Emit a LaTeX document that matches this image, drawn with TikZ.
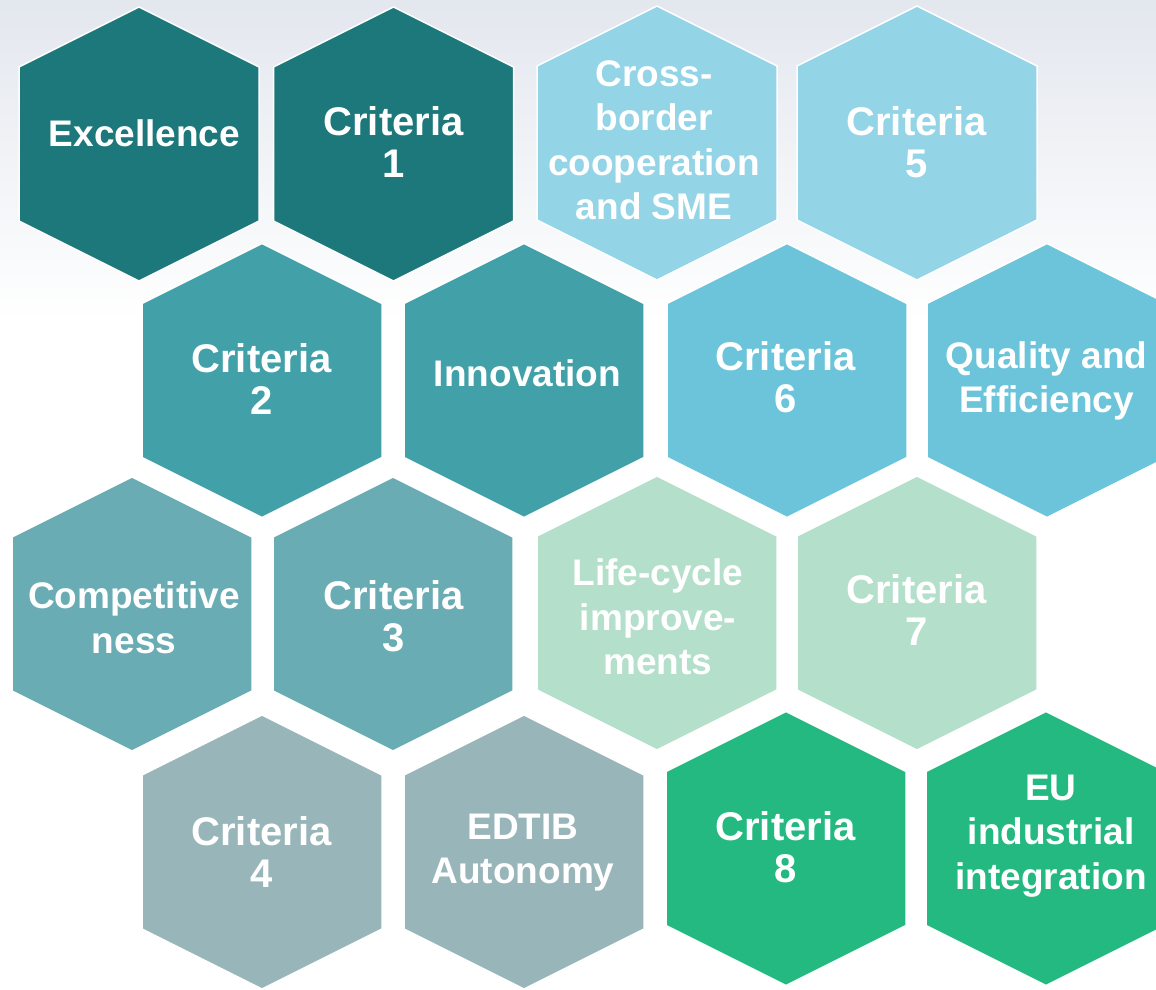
\documentclass[tikz,border=0pt]{standalone}
\usepackage{fontspec}
\setmainfont{Liberation Sans}
\definecolor{bgtop}{HTML}{E3E7EE}
\definecolor{cDark}{HTML}{1C787A}
\definecolor{cLBlue}{HTML}{93D4E6}
\definecolor{cTeal}{HTML}{41A0A8}
\definecolor{cBlue}{HTML}{6BC4DA}
\definecolor{cGTeal}{HTML}{69ACB3}
\definecolor{cMint}{HTML}{B3DFCB}
\definecolor{cGray}{HTML}{98B5B9}
\definecolor{cGreen}{HTML}{25B982}
\tikzset{
  hexcell/.style={fill=#1, draw=white, line width=1.5pt, line join=miter},
  lbl/.style={text=white, font=\bfseries\fontsize{37}{44.5}\selectfont, align=center, inner sep=0pt},
  crit/.style={text=white, font=\bfseries\fontsize{40}{42}\selectfont, align=center, inner sep=0pt},
}
\newcommand\hexcellat[2]{%
  \path[hexcell=#2] (#1) ++(0,-137) -- ++(120,60) -- ++(0,154) -- ++(-120,60) -- ++(-120,-60) -- ++(0,-154) -- cycle;}
\begin{document}
\begin{tikzpicture}[x=1pt,y=-1pt]
\clip (0,0) rectangle (1156,989);
\fill[white] (0,0) rectangle (1156,989);
\shade[top color=bgtop, bottom color=white] (0,0) rectangle (1156,320);
% centres
\coordinate (h11) at (139,144);
\coordinate (h12) at (393.5,144);
\coordinate (h13) at (657,143);
\coordinate (h14) at (917,143);
\coordinate (h21) at (262,380.5);
\coordinate (h22) at (524,380.5);
\coordinate (h23) at (787,380.5);
\coordinate (h24) at (1047,380.5);
\coordinate (h31) at (132,614);
\coordinate (h32) at (393,614);
\coordinate (h33) at (657,613);
\coordinate (h34) at (917,613);
\coordinate (h41) at (262,852);
\coordinate (h42) at (524,852);
\coordinate (h43) at (786,848.5);
\coordinate (h44) at (1046,848.5);
% hexagons
\hexcellat{h11}{cDark}
\hexcellat{h12}{cDark}
\hexcellat{h13}{cLBlue}
\hexcellat{h14}{cLBlue}
\hexcellat{h21}{cTeal}
\hexcellat{h22}{cTeal}
\hexcellat{h23}{cBlue}
\hexcellat{h24}{cBlue}
\hexcellat{h31}{cGTeal}
\hexcellat{h32}{cGTeal}
\hexcellat{h33}{cMint}
\hexcellat{h34}{cMint}
\hexcellat{h41}{cGray}
\hexcellat{h42}{cGray}
\hexcellat{h43}{cGreen}
\hexcellat{h44}{cGreen}
% labels
\node[lbl]  (t11) at (144.5,133) {Excellence};
\node[crit] (t12) at (393.5,142) {Criteria\\1};
\node[lbl]  (t13) at (654,140.5) {Cross-\\border\\cooperation\\and SME};
\node[crit] (t14) at (916.5,142) {Criteria\\5};
\node[crit] (t21) at (261.5,379) {Criteria\\2};
\node[lbl]  (t22) at (527.5,373.5) {Innovation};
\node[crit] (t23) at (785.5,377) {Criteria\\6};
\node[lbl]  (t24) at (1046.5,381) {Quality and\\Efficiency};
\node[lbl]  (t31) at (134,618) {Competitive\\ness};
\node[crit] (t32) at (393.5,616.5) {Criteria\\3};
\node[lbl]  (t33) at (658,617) {Life-cycle\\improve-\\ments};
\node[crit] (t34) at (916.5,610) {Criteria\\7};
\node[crit] (t41) at (261.5,852) {Criteria\\4};
\node[lbl]  (t42) at (523,852.5) {EDTIB\\Autonomy};
\node[crit] (t43) at (785.5,847) {Criteria\\8};
\node[lbl]  (t44) at (1051,836) {EU\\industrial\\integration};
\end{tikzpicture}
\end{document}
